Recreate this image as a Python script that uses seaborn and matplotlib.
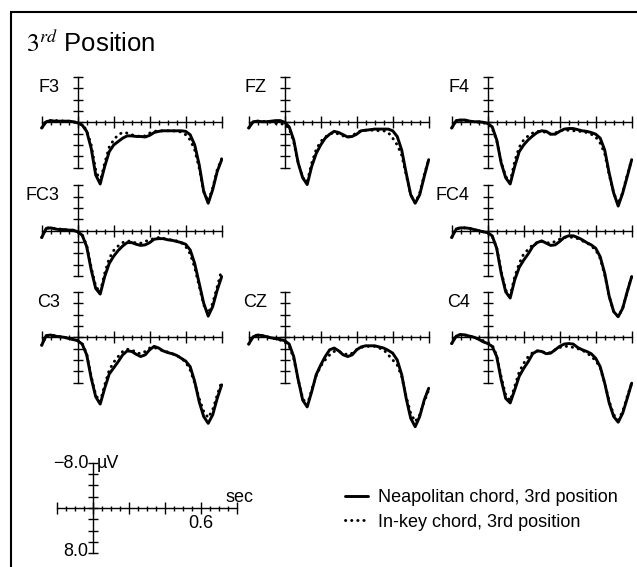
import matplotlib
matplotlib.use("Agg")
import numpy as np
import pandas as pd
import matplotlib.pyplot as plt
import seaborn as sns
from matplotlib.patches import Rectangle

# Data (µV, negative up), sampled every 25 ms

time_s = [-0.2, -0.175, -0.15, -0.125, -0.1, -0.075, -0.05, -0.025,
          0.0, 0.025, 0.05, 0.075, 0.1, 0.125, 0.15, 0.175,
          0.2, 0.225, 0.25, 0.275, 0.3, 0.325, 0.35, 0.375,
          0.4, 0.425, 0.45, 0.475, 0.5, 0.525, 0.55, 0.575,
          0.6, 0.625, 0.65, 0.675, 0.7, 0.725, 0.75, 0.775, 0.8]

f3_neap = [1.0, -0.1, -0.3, -0.2, -0.2, -0.2, -0.2, -0.1, 0.1, 0.5, 1.6, 4.6, 9.3, 10.9, 7.8, 5.2,
           4.0, 3.4, 2.8, 2.4, 2.4, 2.5, 2.5, 2.6, 2.3, 1.8, 1.6, 1.5, 1.5, 1.5, 1.5, 1.5,
           1.6, 2.2, 4.0, 7.5, 12.2, 14.3, 11.9, 8.7, 6.6]
f3_inkey = [1.0, -0.2, -0.3, -0.3, -0.3, -0.2, -0.2, -0.1, 0.1, 0.4, 1.4, 4.0, 8.4, 10.5, 7.2, 4.4,
            3.1, 2.2, 1.8, 1.9, 2.2, 2.4, 2.5, 2.4, 1.9, 1.6, 1.5, 1.5, 1.5, 1.5, 1.6, 1.7,
            2.2, 3.1, 4.9, 8.1, 12.2, 14.0, 11.6, 8.4, 6.4]
fz_neap = [1.0, -0.1, -0.2, -0.1, -0.1, -0.2, -0.3, -0.3, 0.0, 0.8, 3.1, 7.2, 9.8, 11.0, 7.8, 5.5,
           4.0, 2.8, 2.1, 1.6, 1.8, 2.2, 2.6, 2.5, 2.1, 1.5, 1.4, 1.3, 1.2, 1.2, 1.2, 1.2,
           1.5, 2.5, 4.9, 9.0, 12.8, 14.3, 12.8, 9.6, 6.6]
fz_inkey = [1.0, -0.1, -0.2, -0.2, -0.1, 0.0, 0.2, 0.3, 0.3, 1.1, 3.4, 7.2, 9.8, 10.5, 7.2, 4.8,
            3.4, 2.6, 2.1, 1.8, 2.1, 2.4, 2.6, 2.4, 1.8, 1.5, 1.4, 1.4, 1.4, 1.5, 1.5, 1.8,
            2.8, 4.0, 5.8, 9.3, 12.8, 14.2, 12.5, 9.3, 6.6]
f4_neap = [1.0, -0.3, -0.4, -0.4, -0.2, -0.1, -0.1, 0.0, 0.2, 0.8, 3.1, 7.2, 9.8, 10.9, 7.8, 5.2,
           4.0, 3.1, 2.4, 1.8, 1.5, 1.6, 2.1, 2.1, 1.6, 1.2, 1.1, 1.1, 1.3, 1.5, 1.6, 1.8,
           2.1, 2.8, 4.9, 9.0, 12.5, 14.8, 12.5, 9.6, 6.6]
f4_inkey = [1.0, -0.3, -0.4, -0.3, -0.2, -0.1, 0.0, 0.1, 0.3, 1.0, 3.2, 7.0, 9.6, 10.5, 6.9, 4.4,
            3.1, 2.4, 1.9, 1.6, 1.6, 1.8, 2.1, 1.9, 1.5, 1.4, 1.4, 1.5, 1.5, 1.7, 1.8, 2.1,
            2.6, 3.7, 5.5, 9.3, 12.5, 14.4, 12.4, 9.3, 6.6]
fc3_neap = [1.2, -0.4, -0.5, -0.3, -0.2, -0.2, -0.1, -0.1, 0.2, 0.8, 2.8, 6.9, 10.2, 11.2, 8.1, 5.8,
            4.5, 3.5, 2.7, 2.1, 2.1, 2.4, 2.6, 2.5, 2.1, 1.5, 1.4, 1.4, 1.6, 1.7, 1.9, 2.1,
            2.4, 3.4, 5.8, 9.3, 12.8, 15.1, 13.4, 10.5, 8.1]
fc3_inkey = [1.2, -0.5, -0.5, -0.4, -0.3, -0.2, -0.1, 0.0, 0.2, 0.7, 2.6, 6.5, 9.8, 10.9, 7.5, 4.9,
             3.5, 2.7, 2.1, 1.8, 1.9, 2.2, 2.2, 1.9, 1.6, 1.4, 1.2, 1.4, 1.5, 1.7, 1.8, 2.1,
             2.8, 4.1, 6.5, 9.8, 13.1, 14.6, 12.8, 9.9, 6.9]
fc4_neap = [1.2, -0.3, -0.5, -0.5, -0.4, -0.2, 0.0, 0.2, 0.35, 0.9, 3.1, 7.5, 10.8, 11.9, 8.7, 6.5,
            5.2, 4.1, 2.8, 2.1, 1.8, 2.2, 2.6, 2.5, 1.9, 1.2, 0.9, 0.9, 1.2, 1.6, 2.1, 2.5,
            3.1, 4.6, 7.5, 11.6, 14.3, 15.2, 13.7, 10.8, 8.1]
fc4_inkey = [1.2, -0.4, -0.5, -0.5, -0.4, -0.2, 0.0, 0.2, 0.4, 1.0, 3.0, 7.2, 10.5, 11.5, 8.1, 5.8,
             4.1, 3.3, 2.5, 2.1, 1.9, 2.1, 2.2, 1.9, 1.5, 1.2, 1.1, 1.2, 1.4, 1.8, 2.1, 2.7,
             3.4, 4.9, 7.8, 11.6, 14.3, 15.2, 13.7, 10.8, 8.1]
c3_neap = [1.4, -0.3, -0.4, -0.2, -0.1, 0.0, 0.2, 0.4, 0.6, 1.2, 3.1, 7.2, 10.5, 11.8, 9.0, 6.5,
           5.4, 4.3, 3.1, 2.4, 2.5, 3.0, 3.4, 3.1, 2.2, 1.6, 1.9, 2.4, 2.7, 2.9, 3.2, 3.7,
           4.2, 5.2, 7.8, 11.4, 14.0, 15.2, 13.7, 10.8, 8.4]
c3_inkey = [1.4, -0.3, -0.4, -0.3, -0.1, 0.0, 0.2, 0.3, 0.5, 1.1, 2.9, 6.9, 10.2, 11.4, 8.4, 5.8,
            4.4, 3.4, 2.5, 2.1, 2.2, 2.7, 2.9, 2.5, 1.9, 1.8, 2.1, 2.4, 2.6, 2.9, 3.2, 3.7,
            4.4, 5.8, 8.1, 10.8, 13.1, 14.2, 12.8, 10.2, 7.8]
cz_neap = [1.2, -0.1, -0.4, -0.3, -0.1, 0.1, 0.2, 0.4, 0.6, 1.2, 3.4, 7.5, 11.1, 12.3, 9.6, 6.6,
           4.9, 3.4, 2.2, 1.9, 2.4, 3.1, 3.4, 3.1, 2.2, 1.7, 1.5, 1.5, 1.5, 1.7, 1.9, 2.3,
           2.8, 4.0, 6.6, 10.8, 14.3, 15.8, 14.0, 11.1, 9.0]
cz_inkey = [1.2, -0.2, -0.4, -0.3, -0.1, 0.1, 0.3, 0.5, 0.8, 1.6, 3.7, 7.5, 10.8, 12.0, 9.3, 6.8,
            5.1, 4.0, 3.1, 2.5, 2.5, 2.8, 3.1, 2.8, 2.2, 1.8, 1.6, 1.6, 1.6, 1.9, 2.2, 3.1,
            4.0, 4.9, 6.9, 10.5, 13.4, 14.9, 13.7, 11.4, 9.3]
c4_neap = [1.1, -0.2, -0.5, -0.4, -0.2, 0.0, 0.35, 0.8, 1.1, 1.6, 3.4, 7.5, 10.8, 11.6, 9.3, 6.9,
           5.5, 4.3, 2.9, 2.4, 2.5, 2.9, 2.8, 2.2, 1.6, 1.2, 1.1, 1.2, 1.8, 2.2, 2.5, 2.9,
           3.7, 5.2, 8.1, 11.6, 14.0, 15.0, 13.4, 10.8, 8.1]
c4_inkey = [1.1, -0.3, -0.5, -0.4, -0.2, 0.0, 0.3, 0.6, 0.9, 1.4, 3.2, 7.0, 10.2, 11.2, 8.7, 6.1,
            4.6, 3.4, 2.7, 2.4, 2.5, 2.8, 2.7, 2.2, 1.8, 1.6, 1.6, 1.8, 2.0, 2.3, 2.7, 3.4,
            4.1, 5.4, 8.1, 11.3, 13.7, 14.6, 13.1, 10.5, 8.1]

electrodes = ["F3", "FZ", "F4", "FC3", "FC4", "C3", "CZ", "C4"]
neap_series = [f3_neap, fz_neap, f4_neap, fc3_neap, fc4_neap, c3_neap, cz_neap, c4_neap]
inkey_series = [f3_inkey, fz_inkey, f4_inkey, fc3_inkey, fc4_inkey, c3_inkey, cz_inkey, c4_inkey]
grid_pos = [(0, 0), (0, 1), (0, 2), (1, 0), (1, 2), (2, 0), (2, 1), (2, 2)]

conditions = ["Neapolitan chord, 3rd position", "In-key chord, 3rd position"]

# long table for seaborn
rows = []
for name, neap, inkey in zip(electrodes, neap_series, inkey_series):
    for cond, vals in zip(conditions, [neap, inkey]):
        for t, v in zip(time_s, vals):
            rows.append({"electrode": name, "condition": cond, "time": t, "uv": v})
df = pd.DataFrame(rows)

# Style

sns.set_theme(style="white")
plt.rcParams["font.family"] = ["Liberation Sans", "DejaVu Sans"]
plt.rcParams["mathtext.fontset"] = "stix"
plt.rcParams["lines.dash_capstyle"] = "round"
plt.rcParams["text.color"] = "black"

W, H = 637, 567
PX_S = 180.0     # pixels per second
PX_UV = 5.66     # pixels per microvolt
T_LO, T_HI = -0.21, 0.81
COL_X = [77.7, 284.7, 487.7]   # pixel x of the time-zero axis
ROW_Y = [122.3, 230.7, 337.3]  # pixel y of the 0 µV axis
FS = 13

fig = plt.figure(figsize=(W / 100, H / 100), dpi=100)


def make_axes(x0, y0, uv_top, uv_bot):
    left = (x0 + T_LO * PX_S) / W
    width = (T_HI - T_LO) * PX_S / W
    top = y0 + uv_top * PX_UV
    height = (uv_bot - uv_top) * PX_UV
    ax = fig.add_axes([left, 1 - (top + height) / H, width, height / H])
    ax.set_xlim(T_LO, T_HI)
    ax.set_ylim(uv_bot, uv_top)
    ax.patch.set_visible(False)
    for s in ["top", "right"]:
        ax.spines[s].set_visible(False)
    ax.spines["left"].set_position(("data", 0))
    ax.spines["bottom"].set_position(("data", 0))
    ax.spines["left"].set_bounds(-8, 8)
    ax.spines["bottom"].set_bounds(-0.2, 0.8)
    for s in ["left", "bottom"]:
        ax.spines[s].set_color("black")
        ax.spines[s].set_linewidth(1.0)
    ax.set_xticks([-0.2, 0.0, 0.2, 0.4, 0.6, 0.8])
    ax.set_xticks(np.arange(-0.2, 0.81, 0.05), minor=True)
    ax.set_yticks(np.arange(-8, 9, 2))
    ax.set_yticks([], minor=True)
    ax.tick_params(axis="x", which="major", direction="inout", length=8.5, width=1.0,
                   color="black", labelbottom=False, bottom=True)
    ax.tick_params(axis="x", which="minor", direction="inout", length=3.6, width=1.0,
                   color="black", bottom=True)
    ax.tick_params(axis="y", which="major", direction="inout", length=7.5, width=1.0,
                   color="black", labelleft=False, left=True)
    ax.grid(False)
    return ax


handles = None
for name, (r, c) in zip(electrodes, grid_pos):
    ax = make_axes(COL_X[c], ROW_Y[r], -10, 17)
    sub = df[df["electrode"] == name]
    sns.lineplot(data=sub, x="time", y="uv", style="condition", style_order=conditions,
                 dashes={conditions[0]: "", conditions[1]: (0.1, 2.0)},
                 color="black", linewidth=2.1, estimator=None, legend=False, ax=ax)
    ax.set_xlabel("")
    ax.set_ylabel("")
    ax.text(-0.1, -5.4, name, ha="right", va="baseline", fontsize=FS, color="black")
    if handles is None:
        handles = ax.get_lines()[:2]

# scale key
kx, ky = 93.3, 508.0
key = make_axes(kx, ky, -10, 10)
key.text(-0.028, -7.0, "\u22128.0", ha="right", va="baseline", fontsize=FS)
key.text(-0.028, 8.4, "8.0", ha="right", va="baseline", fontsize=FS)
key.text(0.02, -7.0, "\u00b5V", ha="left", va="baseline", fontsize=FS)
key.text(0.735, -1.0, "sec", ha="left", va="baseline", fontsize=FS)
key.text(0.6, 3.6, "0.6", ha="center", va="baseline", fontsize=FS)

# legend
fig.legend(handles, conditions, loc="upper left", bbox_to_anchor=(345 / W, 1 - 489 / H),
           frameon=False, fontsize=FS, handlelength=1.3, handletextpad=0.5,
           labelspacing=0.42, borderpad=0, borderaxespad=0)

# title and frame
fig.text(26 / W, 1 - 52 / H, r"$3^{rd}$ Position", fontsize=18.5, va="baseline", ha="left")
fig.add_artist(Rectangle((11 / W, -0.1), 1.2, 1 - 12 / H + 0.1, transform=fig.transFigure,
                         fill=False, edgecolor="black", linewidth=1.5))

fig.savefig("out.png", dpi=100)
